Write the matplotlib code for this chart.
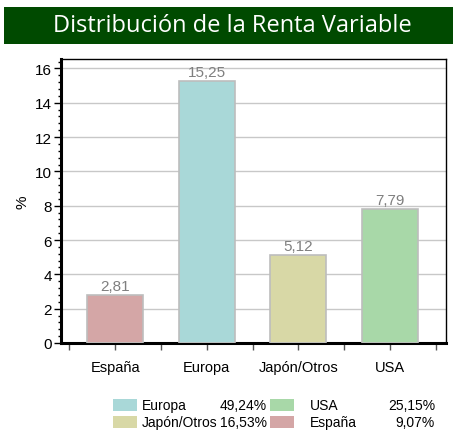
import matplotlib.pyplot as plt
from matplotlib.patches import Rectangle
import numpy as np

regiones = ['España', 'Europa', 'Japón/Otros', 'USA']
valores = [2.81, 15.25, 5.12, 7.79]
etiquetas = ['2,81', '15,25', '5,12', '7,79']
colores = ['#d4a6a6', '#a9d8d8', '#d8d8a6', '#a8d8a8']

leyenda_nombres = ['Europa', 'Japón/Otros', 'USA', 'España']
leyenda_pct = ['49,24%', '16,53%', '25,15%', '9,07%']
leyenda_colores = ['#a9d8d8', '#d8d8a6', '#a8d8a8', '#d4a6a6']

plt.rcParams['font.family'] = ['Liberation Sans', 'DejaVu Sans']

fig = plt.figure(figsize=(4.55, 4.35), dpi=100)
W, H = 455, 435

def fx(px):
    return px / W

def fy(py):
    return 1 - py / H

# title banner
fig.patches.append(Rectangle((fx(4), fy(45)), fx(449), 37 / H,
                             transform=fig.transFigure,
                             facecolor='#004a00', edgecolor='none'))
fig.text(fx(232), fy(26.5), 'Distribución de la Renta Variable',
         color='white', fontsize=17, ha='center', va='center',
         family=['Open Sans', 'DejaVu Sans'])

ax = fig.add_axes([fx(61), fy(344), fx(446) - fx(61), (344 - 60) / H])

x = np.arange(len(regiones))
ax.bar(x, valores, width=0.61, color=colores, edgecolor='#bdbdbd',
       linewidth=1.2, zorder=3)
for xi, v, t in zip(x, valores, etiquetas):
    ax.text(xi, v + 0.12, t, ha='center', va='bottom', color='#7f7f7f',
            fontsize=11)

ax.set_xlim(-0.59, 3.61)
ax.set_ylim(0, 16.55)
ax.set_yticks(np.arange(0, 17, 2))
ax.set_yticks(np.arange(0, 16.5, 0.4), minor=True)
ax.set_xticks(x)
ax.set_xticklabels(regiones)
ax.set_xticks(np.arange(-0.5, 3.6, 1.0), minor=True)
ax.grid(axis='y', color='#c8c8c8', linewidth=1, zorder=0)

for s in ['top', 'right']:
    ax.spines[s].set_linewidth(1)
for s in ['left', 'bottom']:
    ax.spines[s].set_linewidth(2.2)

ax.tick_params(axis='y', which='major', length=5, width=1, labelsize=11,
               pad=1.5)
ax.tick_params(axis='y', which='minor', length=2.5, width=1)
ax.tick_params(axis='x', which='both', length=5, width=1, color='#555555',
               labelsize=10.5, pad=7)
ax.set_ylabel('%', fontsize=11, labelpad=4)

# legend below
rows = [406, 423]
cols = [(113, 142, 267), (270, 310, 435)]
for i, (nom, pct, col) in enumerate(zip(leyenda_nombres, leyenda_pct,
                                        leyenda_colores)):
    c = cols[i // 2]
    r = rows[i % 2]
    fig.patches.append(Rectangle((fx(c[0]), fy(r + 6)), fx(24), 12 / H,
                                 transform=fig.transFigure,
                                 facecolor=col, edgecolor='none'))
    fig.text(fx(c[1]), fy(r), nom, fontsize=10, va='center', ha='left')
    fig.text(fx(c[2]), fy(r), pct, fontsize=10, va='center', ha='right')

fig.savefig('out.png', dpi=100)
